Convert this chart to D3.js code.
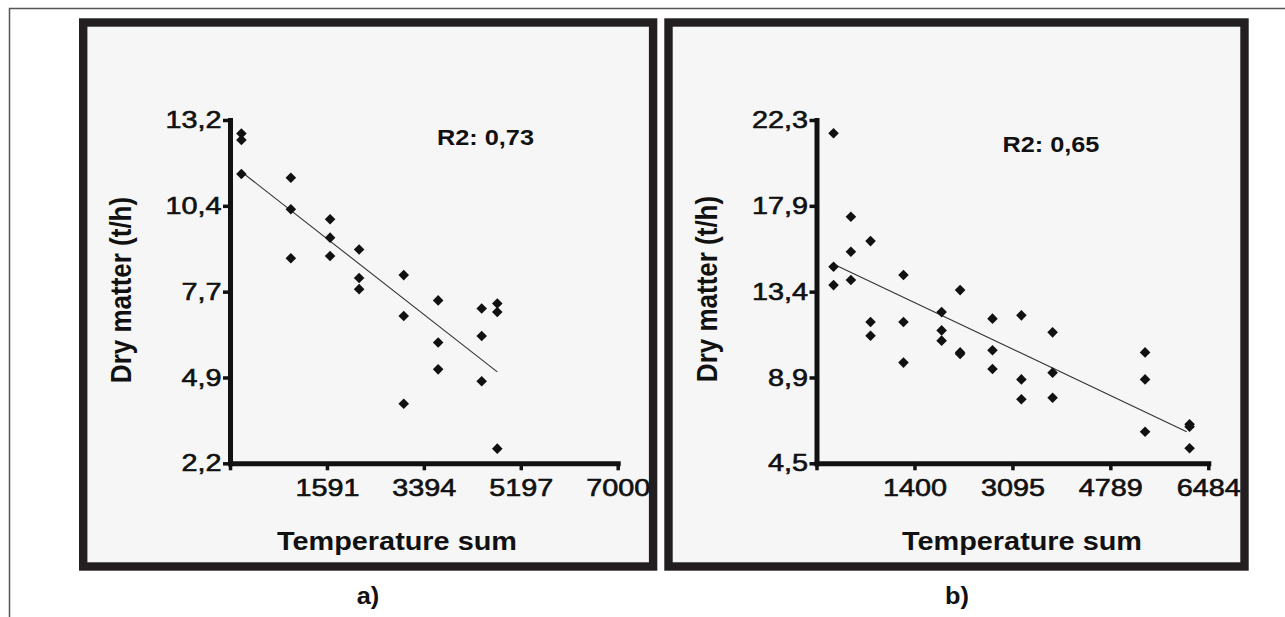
<!DOCTYPE html>
<head>
  <meta charset="utf-8">
  <script src="https://d3js.org/d3.v7.min.js"></script>
  <style>
    body { margin: 0; background: #fff; }
    svg { display: block; }
    text { font-family: "Liberation Sans", Arial, sans-serif; fill: #111; }
  </style>
</head>

<body>
  <svg width="1285" height="617"></svg>
  <script>
    // data, panel a
    var tempA = [0, 0, 0, 920, 920, 920, 1650, 1650, 1650, 2190, 2190, 2190,
                 3020, 3020, 3020, 3660, 3660, 3660, 4470, 4470, 4470, 4760, 4760, 4760];
    var dryA  = [12.77, 12.56, 11.47, 11.35, 10.34, 8.77, 10.02, 9.43, 8.84, 9.05, 8.14, 7.78,
                 8.23, 6.92, 4.11, 7.42, 6.07, 5.21, 7.16, 6.28, 4.83, 7.32, 7.05, 2.67];
    var fitTempA = [0, 4760];
    var fitDryA = [11.54, 5.13];
    var xTicksA = [1591, 3394, 5197, 7000];
    var yTicksA = [2.2, 4.95, 7.7, 10.45, 13.2];
    var yLabelsA = ["2,2", "4,9", "7,7", "10,4", "13,2"];
    var r2A = "R2: 0,73";

    // data, panel b
    var tempB = [0, 0, 0, 300, 300, 300, 640, 640, 640, 1210, 1210, 1210, 1870, 1870, 1870,
                 2190, 2190, 2190, 2750, 2750, 2750, 3250, 3250, 3250, 3790, 3790, 3790,
                 5390, 5390, 5390, 6160, 6160, 6160];
    var dryB  = [21.61, 14.69, 13.74, 17.28, 15.47, 14.0, 16.02, 11.83, 11.11, 14.26, 11.83, 9.72,
                 12.34, 11.39, 10.86, 13.48, 10.25, 10.17, 12.0, 10.36, 9.39, 12.17, 8.85, 7.82,
                 11.29, 9.2, 7.9, 10.25, 8.85, 6.14, 6.52, 6.4, 5.28];
    var fitTempB = [30, 6110];
    var fitDryB = [14.78, 6.14];
    var xTicksB = [1400, 3095, 4789, 6484];
    var yTicksB = [4.5, 8.95, 13.4, 17.85, 22.3];
    var yLabelsB = ["4,5", "8,9", "13,4", "17,9", "22,3"];
    var r2B = "R2: 0,65";

    var xTitle = "Temperature sum";
    var yTitle = "Dry matter (t/h)";

    var svg = d3.select('svg');

    // thin frame of the figure
    svg.append('path')
      .attr('d', 'M9.5,617V8.5H1285')
      .attr('fill', 'none')
      .attr('stroke', '#555')
      .attr('stroke-width', 1.5);

    function stretched(sel, sx) {
      return sel.attr('transform', function() {
        var t = d3.select(this).attr('data-pos');
        return 'translate(' + t + ') scale(' + sx + ',1)';
      });
    }

    function panel(p) {
      var g = svg.append('g');

      // frame
      g.append('rect')
        .attr('x', p.box[0] + 4.2).attr('y', 22.5)
        .attr('width', p.box[1] - p.box[0] - 8.4).attr('height', 544)
        .attr('fill', '#f6f6f6')
        .attr('stroke', '#231f20')
        .attr('stroke-width', 8.4);

      // scales
      var step = p.xTicks[1] - p.xTicks[0];
      var xMin = p.xTicks[0] - step;
      var xScale = d3.scaleLinear()
        .domain([xMin, p.xTicks[p.xTicks.length - 1]])
        .range(p.xRange);
      var yScale = d3.scaleLinear()
        .domain([p.yTicks[0], p.yTicks[p.yTicks.length - 1]])
        .range([463.3, 120]);

      // axes
      var xAxis = d3.axisBottom(xScale)
        .tickValues([xMin].concat(p.xTicks))
        .tickFormat(function(d) { return d === xMin ? '' : d; })
        .tickSizeInner(7).tickSizeOuter(0).tickPadding(9);
      var yAxis = d3.axisLeft(yScale)
        .tickValues(p.yTicks)
        .tickFormat(function(d, i) { return p.yLabels[i]; })
        .tickSizeInner(7).tickSizeOuter(0).tickPadding(0);

      [[xAxis, 'translate(0,463.3)'], [yAxis, 'translate(' + p.xRange[0] + ',0)']].forEach(function(a) {
        var ax = g.append('g')
          .attr('transform', a[1])
          .call(a[0]);
        ax.select('.domain').attr('stroke', '#111').attr('stroke-width', 5).attr('stroke-linecap', 'square');
        ax.selectAll('.tick line').attr('stroke', '#111').attr('stroke-width', 3.5);
        ax.selectAll('.tick text')
          .attr('font-size', 24)
          .attr('font-family', '"Liberation Sans", Arial, sans-serif')
          .attr('fill', '#111')
          .attr('stroke', '#111')
          .attr('stroke-width', 0.6)
          .attr('transform', 'scale(1.2,1)');
      });

      // regression line
      var line = d3.line()
        .x(function(d) { return xScale(d[0]); })
        .y(function(d) { return yScale(d[1]); });
      g.append('path')
        .datum(d3.zip(p.fitX, p.fitY))
        .attr('d', line)
        .attr('fill', 'none')
        .attr('stroke', '#333')
        .attr('stroke-width', 1.1);

      // points
      g.selectAll('.pt')
        .data(d3.zip(p.x, p.y))
        .enter().append('path')
        .attr('class', 'pt')
        .attr('d', d3.symbol().type(d3.symbolSquare).size(56))
        .attr('transform', function(d) {
          return 'translate(' + xScale(d[0]) + ',' + yScale(d[1]) + ') rotate(45)';
        })
        .attr('fill', '#111');

      // texts
      g.append('text')
        .attr('data-pos', p.r2Pos)
        .attr('font-size', 22).attr('font-weight', 'bold')
        .text(p.r2)
        .call(stretched, 1.15);
      g.append('text')
        .attr('data-pos', p.xTitlePos)
        .attr('text-anchor', 'middle')
        .attr('font-size', 26).attr('font-weight', 'bold')
        .text(xTitle)
        .call(stretched, 1.11);
      g.append('text')
        .attr('transform', 'translate(' + p.yTitlePos + ') scale(1.11,1) rotate(-90)')
        .attr('text-anchor', 'middle')
        .attr('font-size', 26).attr('font-weight', 'bold')
        .text(yTitle);
      g.append('text')
        .attr('data-pos', p.labelPos)
        .attr('text-anchor', 'middle')
        .attr('font-size', 23).attr('font-weight', 'bold')
        .text(p.label)
        .call(stretched, 1.1);
    }

    panel({
      x: tempA, y: dryA, fitX: fitTempA, fitY: fitDryA,
      xTicks: xTicksA, yTicks: yTicksA, yLabels: yLabelsA, r2: r2A, label: 'a)',
      box: [79, 657.3], xRange: [230, 617.7],
      r2Pos: [437, 145], xTitlePos: [397, 550], yTitlePos: [131, 290], labelPos: [368, 604]
    });
    panel({
      x: tempB, y: dryB, fitX: fitTempB, fitY: fitDryB,
      xTicks: xTicksB, yTicks: yTicksB, yLabels: yLabelsB, r2: r2B, label: 'b)',
      box: [664.3, 1248.7], xRange: [816.5, 1208.3],
      r2Pos: [1002.4, 152], xTitlePos: [1022, 550], yTitlePos: [717, 289], labelPos: [957, 604]
    });
  </script>
</body>
</html>
